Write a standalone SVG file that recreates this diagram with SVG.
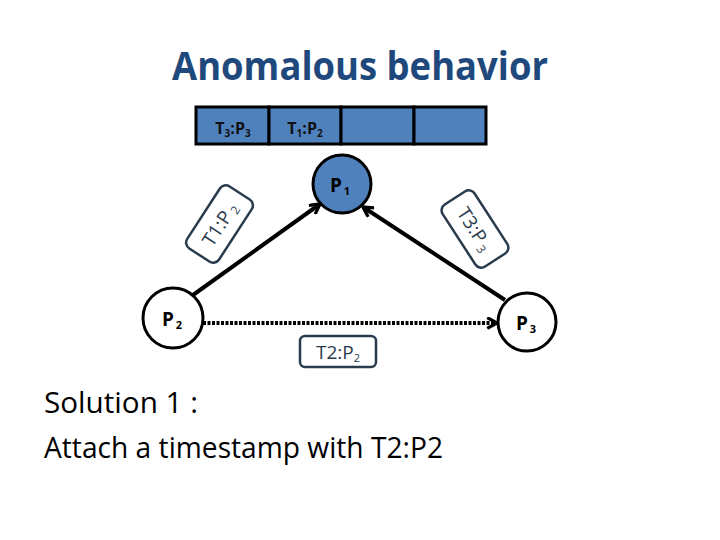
<svg xmlns="http://www.w3.org/2000/svg" width="720" height="540" viewBox="0 0 720 540">
<style>
.t{font-family:"Open Sans","Liberation Sans",sans-serif}
.cell{fill:#4f81bd;stroke:#000;stroke-width:3}
.q{font-family:"Open Sans","Liberation Sans",sans-serif;font-weight:bold;font-size:16px;fill:#111}
.node{stroke:#000;stroke-width:3}
.nl{font-family:"Open Sans","Liberation Sans",sans-serif;font-weight:bold;font-size:19px;fill:#000}
.lbox{fill:#fff;stroke:#2a3b4e;stroke-width:2.5}
.lt{font-family:"Open Sans","Liberation Sans",sans-serif;font-size:19px;fill:#2a3b4e}
.edge{stroke:#000;stroke-width:4;fill:none}
</style>
<defs>
<marker id="ah" viewBox="0 0 12 12" refX="11" refY="6" markerWidth="13" markerHeight="13" markerUnits="userSpaceOnUse" orient="auto">
<path d="M2,1 L11,6 L2,11" fill="none" stroke="#000" stroke-width="3"/>
</marker>
</defs>
<rect width="720" height="540" fill="#fff"/>
<text class="t" x="172" y="80" font-size="40" font-weight="bold" fill="#1f497d" textLength="376" lengthAdjust="spacingAndGlyphs">Anomalous behavior</text>

<g id="queue">
<rect class="cell" x="196" y="107" width="73" height="37"/>
<rect class="cell" x="269" y="107" width="72" height="37"/>
<rect class="cell" x="341" y="107" width="73" height="37"/>
<rect class="cell" x="414" y="107" width="72" height="37"/>
<text class="q" x="233" y="134" text-anchor="middle">T<tspan font-size="10" dy="3">3</tspan><tspan dy="-3">:P</tspan><tspan font-size="10" dy="3">3</tspan></text>
<text class="q" x="305" y="134" text-anchor="middle">T<tspan font-size="10" dy="3">1</tspan><tspan dy="-3">:P</tspan><tspan font-size="10" dy="3">2</tspan></text>
</g>

<g id="connectors">
<line class="edge" x1="193" y1="295" x2="320" y2="204" marker-end="url(#ah)"/>
<line class="edge" x1="505" y1="300" x2="363" y2="207" marker-end="url(#ah)"/>
<line class="edge" x1="203" y1="323" x2="497" y2="323" stroke-dasharray="3 1.5" marker-end="url(#ah)"/>
</g>

<g id="P1">
<circle class="node" cx="342" cy="184" r="29" fill="#4f81bd"/>
<text class="nl" x="340" y="192" text-anchor="middle">P<tspan font-size="11" dx="2" dy="3">1</tspan></text>
</g>
<g id="P2">
<circle class="node" cx="173" cy="318" r="30" fill="#fff"/>
<text class="nl" x="172" y="326" text-anchor="middle">P<tspan font-size="11" dx="2" dy="3">2</tspan></text>
</g>
<g id="P3">
<circle class="node" cx="527" cy="322" r="29" fill="#fff"/>
<text class="nl" x="526" y="330" text-anchor="middle">P<tspan font-size="11" dx="2" dy="3">3</tspan></text>
</g>

<g id="label-T1P2" transform="translate(219.5,224) rotate(-57)">
<rect class="lbox" x="-37" y="-19" width="74" height="38" rx="7"/>
<text class="lt" x="0" y="7" text-anchor="middle">T1:P<tspan font-size="12" dx="3" dy="3">2</tspan></text>
</g>
<g id="label-T3P3" transform="translate(475,229) rotate(57)">
<rect class="lbox" x="-37" y="-19" width="74" height="38" rx="7"/>
<text class="lt" x="0" y="7" text-anchor="middle">T3:P<tspan font-size="12" dx="3" dy="3">3</tspan></text>
</g>
<g id="label-T2P2">
<rect class="lbox" x="300" y="336" width="76" height="31" rx="5"/>
<text class="lt" x="338" y="359" text-anchor="middle" font-size="18">T2:P<tspan font-size="11" dy="3">2</tspan></text>
</g>

<text class="t" x="44" y="413" font-size="30" fill="#000" textLength="154" lengthAdjust="spacingAndGlyphs">Solution 1 :</text>
<text class="t" x="44" y="458" font-size="30" fill="#000" textLength="399" lengthAdjust="spacingAndGlyphs">Attach a timestamp with T2:P2</text>
</svg>
